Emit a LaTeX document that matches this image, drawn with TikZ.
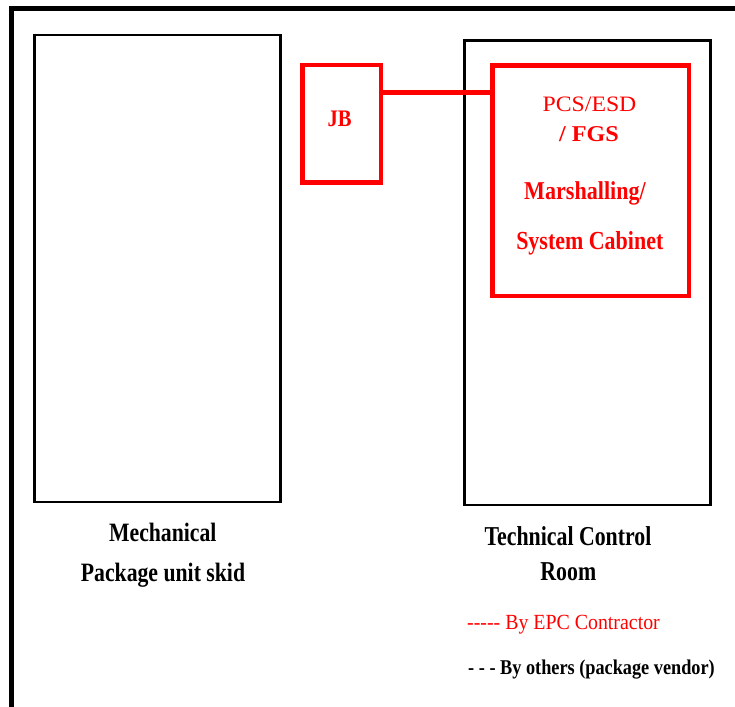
\documentclass[tikz,border=0pt]{standalone}
\usepackage{fontspec}
\usepackage{graphicx}
\setmainfont{Liberation Serif}
\newcommand{\hy}{\mbox{-}}
% text set at size #1, squeezed horizontally by #2
\newcommand{\lbl}[3]{\fontsize{#1}{#1}\selectfont\scalebox{#2}[1]{#3}}
\definecolor{epcred}{RGB}{255,0,0}
\tikzset{
  frame/.style={draw=black, line width=5pt, line join=miter},
  area/.style={draw=black, line width=2.5pt},
  redbox/.style={draw=epcred, line width=4.6pt},
  redlink/.style={draw=epcred, line width=5pt},
  txt/.style={inner sep=0pt, anchor=base},
  txtw/.style={inner sep=0pt, anchor=base west},
}
\begin{document}
\begin{tikzpicture}[x=1pt, y=-1pt]
\useasboundingbox (0,0) rectangle (735,706);

% outer frame (top and left edges)
\draw[frame] (737,8.5) -- (11.5,8.5) -- (11.5,708);

% areas
\draw[area] (34.7,35) rectangle (280.7,502);
\draw[area] (464.3,40.3) rectangle (710.4,505);

% junction box and cabinet
\node[redbox, minimum width=78.3pt, minimum height=117.5pt, inner sep=0pt] (jb) at (341.65,123.75) {};
\node[redbox, minimum width=196.3pt, minimum height=230.5pt, inner sep=0pt] (cab) at (590.85,180.55) {};
\coordinate (jbout) at (jb.east |- 0,92.2);
\draw[redlink] (jbout) -- (jbout -| cab.west);

% texts inside red boxes
\node[txt, text=epcred] (jbt) at (339.7,126.7) {\bfseries\lbl{23.7}{0.87}{JB}};
\node[txt, text=epcred] (pcs) at (589.5,111) {\lbl{22}{1.08}{PCS/ESD}};
\node[txt, text=epcred] (fgs) at (589,141.7) {\bfseries\lbl{22.6}{1.07}{/ FGS}};
\node[txt, text=epcred] (mar) at (585,199.3) {\bfseries\lbl{25.7}{0.86}{Marshalling/}};
\node[txt, text=epcred] (sys) at (589.8,249) {\bfseries\lbl{26}{0.845}{System Cabinet}};

% area labels
\node[txt] (mech) at (162.8,541.7) {\bfseries\lbl{26.5}{0.82}{Mechanical}};
\node[txt] (pkg) at (163,581.7) {\bfseries\lbl{26.5}{0.82}{Package unit skid}};
\node[txt] (tcr) at (568,545) {\bfseries\lbl{27.3}{0.8}{Technical Control}};
\node[txt] (room) at (568.3,580) {\bfseries\lbl{27.3}{0.8}{Room}};

% legend
\node[txtw, text=epcred] (leg1) at (467,629.3) {\lbl{21.6}{0.92}{\hy\hy\hy\hy\hy{} By EPC Contractor}};
\node[txtw] (leg2) at (468,674) {\bfseries\lbl{21}{0.87}{\hy{} \hy{} \hy{} By others (package vendor)}};
\end{tikzpicture}
\end{document}
